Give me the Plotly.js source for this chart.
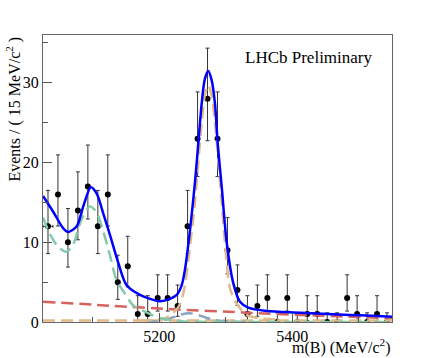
<!DOCTYPE html>
<html>
<head>
<meta charset="utf-8">
<script src="https://cdn.plot.ly/plotly-3.0.1.min.js"></script>
<style>
  html, body { margin: 0; padding: 0; background: #fff; }
  #plot { width: 436px; height: 358px; }
</style>
</head>
<body>
<div id="plot"></div>
<script>
// binned data, 15 MeV bins
var massCenters = [5032.5, 5047.5, 5062.5, 5077.5, 5092.5, 5107.5, 5122.5, 5137.5, 5152.5, 5167.5,
                   5182.5, 5197.5, 5212.5, 5227.5, 5242.5, 5257.5, 5272.5, 5287.5, 5302.5, 5317.5,
                   5332.5, 5347.5, 5362.5, 5377.5, 5392.5, 5407.5, 5422.5, 5437.5, 5452.5, 5467.5,
                   5482.5, 5497.5, 5512.5, 5527.5, 5542.5];
var counts = [12, 16, 10, 14, 17, 12, 16, 5, 7, 1,
              1, 3, 3, 2, 12, 23, 28, 23, 9, 4,
              1, 2, 3, 0, 3, 0, 1, 1, 0, 0,
              3, 1, 0, 1, 0];
var errPlus = [4.51, 4.96, 4.24, 4.83, 5.2, 4.51, 4.96, 3.38, 3.76, 2.3,
               2.3, 2.92, 2.92, 2.64, 4.51, 5.86, 6.35, 5.86, 4.09, 3.16,
               2.3, 2.64, 2.92, 1.15, 2.92, 1.15, 2.3, 2.3, 1.15, 1.15,
               2.92, 2.3, 1.15, 2.3, 1.15];
var errMinus = [3.42, 3.96, 3.11, 3.69, 4.08, 3.42, 3.96, 2.16, 2.58, 0.83,
                0.83, 1.63, 1.63, 1.29, 3.42, 4.76, 5.26, 4.76, 2.95, 1.91,
                0.83, 1.29, 1.63, 0, 1.63, 0, 0.83, 0.83, 0, 0,
                1.63, 0.83, 0, 0.83, 0];
var halfBin = [7.5];

// fit curves
var totalMass = [5025, 5040.5, 5055.5, 5063, 5075.7, 5085.6, 5097, 5105.8, 5115.7, 5125.8,
                 5138.3, 5150.9, 5170.9, 5201, 5216, 5226.1, 5233.6, 5238.6, 5246.1, 5253.6,
                 5258.6, 5263.7, 5268.5, 5273.6, 5278.5, 5283.7, 5287.8, 5293.8, 5301.3, 5311.3,
                 5321.3, 5333.8, 5361.5, 5411.6, 5461.7, 5511.9, 5550];
var totalVal = [15.8, 13.8, 11.75, 11.3, 12.0, 14.5, 16.9, 16.1, 13.6, 10.9,
                7.4, 4.6, 3.4, 2.6, 2.9, 3.4, 4.6, 6.6, 11.5, 17.5,
                22.4, 27.4, 30.5, 31.5, 30.4, 27.4, 22.4, 17, 10, 4.85,
                2.55, 1.8, 1.38, 1.17, 0.96, 0.8, 0.67];

var sigMass = [5170, 5201, 5216, 5229.6, 5237.1, 5246.1, 5253.6, 5263.7, 5268.5, 5273.6,
               5278.5, 5283.7, 5293.8, 5301.3, 5306.3, 5316.4, 5331.4, 5351.4, 5381.5];
var sigVal = [0.2, 0.3, 0.8, 2.0, 4.0, 9.5, 15, 25, 28.5, 29.7,
              28.5, 25, 15, 7.5, 4.2, 2.3, 0.9, 0.45, 0.3];

var flatMass = [5025, 5550];
var flatVal = [0.2, 0.2];

var partMass = [5025, 5035, 5047.6, 5060.2, 5070.1, 5082.7, 5095.2, 5105.3, 5115.2, 5125.3,
                5135.4, 5147.9, 5160.4, 5170.4, 5201, 5231, 5260, 5300, 5550];
var partVal = [13.1, 11.1, 9.45, 8.8, 9.7, 12.8, 14.5, 13.8, 11.5, 8.5,
               5.3, 3.6, 2.1, 1.6, 0.5, 0.1, 0.02, 0, 0];

var smallMass = [5180, 5193, 5208, 5223, 5231, 5246, 5261, 5276, 5291, 5314, 5340];
var smallVal = [0, 0.05, 0.25, 0.65, 0.9, 1.1, 0.8, 0.4, 0.15, 0.02, 0];

var combMass = [5025, 5125, 5225, 5325, 5425, 5550];
var combVal = [2.55, 2.05, 1.58, 1.2, 0.85, 0.47];

var dashes = "12px,6px";

var dataTrace = {
  x: massCenters,
  y: counts,
  mode: "markers",
  type: "scatter",
  marker: {color: "black", size: 6},
  error_y: {type: "data", symmetric: false, array: errPlus, arrayminus: errMinus,
            color: "#333", thickness: 1, width: 2},
  error_x: {type: "data", array: halfBin, color: "#333", thickness: 1, width: 1.5}
};

function curve(x, y, color, dash, w) {
  return {
    x: x, y: y, mode: "lines", type: "scatter",
    line: {color: color, width: w, dash: dash, shape: "spline", smoothing: 0.8}
  };
}

var traces = [
  dataTrace,
  curve(combMass, combVal, "#d6625e", dashes, 2.5),
  curve(flatMass, flatVal, "#e2b98a", dashes, 2.5),
  curve(smallMass, smallVal, "#86a4c2", dashes, 2.5),
  curve(sigMass, sigVal, "#e2b98a", dashes, 2.5),
  curve(partMass, partVal, "#84c9a8", dashes, 2.5),
  curve(totalMass, totalVal, "#0000ff", "solid", 2.5)
];

var serif = "Liberation Serif, Times New Roman, serif";

var layout = {
  width: 436,
  height: 358,
  margin: {l: 43, r: 44, t: 35, b: 36},
  paper_bgcolor: "white",
  plot_bgcolor: "white",
  showlegend: false,
  font: {family: serif, size: 16, color: "black"},
  xaxis: {
    range: [5025, 5550],
    tick0: 0, dtick: 200,
    ticks: "inside", ticklen: 9, tickcolor: "#555", tickwidth: 1,
    minor: {dtick: 100, ticks: "inside", ticklen: 5, tickcolor: "#555"},
    showgrid: false, zeroline: false,
    showline: true, mirror: true, linecolor: "#666", linewidth: 1,
    tickfont: {family: serif, size: 16}
  },
  yaxis: {
    range: [0, 36],
    tick0: 0, dtick: 10,
    ticks: "inside", ticklen: 9, tickcolor: "#555", tickwidth: 1,
    minor: {dtick: 5, ticks: "inside", ticklen: 5, tickcolor: "#555"},
    showgrid: false, zeroline: false,
    showline: true, mirror: true, linecolor: "#666", linewidth: 1,
    tickfont: {family: serif, size: 16}
  },
  annotations: [
    {text: "LHCb Preliminary", xref: "paper", yref: "paper", x: 0.572, y: 0.923,
     xanchor: "left", yanchor: "middle", showarrow: false,
     font: {family: serif, size: 17, color: "black"}},
    {text: "m(B) (MeV/c<sup>2</sup>)", xref: "paper", yref: "paper", x: 1, y: 0,
     xanchor: "right", yanchor: "top", yshift: -12, showarrow: false,
     font: {family: serif, size: 16, color: "black"}},
    {text: "Events / ( 15 MeV/c<sup>2</sup> )", xref: "paper", yref: "paper", x: 0, y: 1,
     xanchor: "center", yanchor: "top", xshift: -29, textangle: -90, showarrow: false,
     font: {family: serif, size: 16, color: "black"}}
  ]
};

Plotly.newPlot("plot", traces, layout, {staticPlot: true});
</script>
</body>
</html>
